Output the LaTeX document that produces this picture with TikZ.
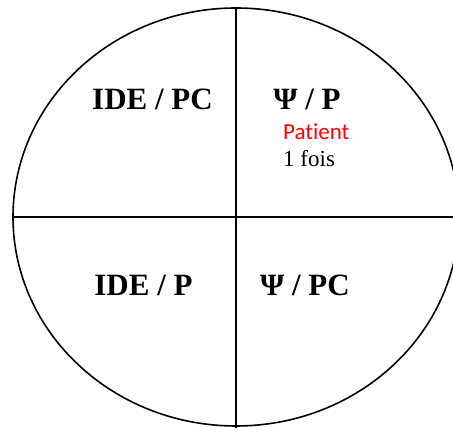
\documentclass[tikz,border=0pt]{standalone}
\usepackage{fontspec}
\usepackage{xcolor}
\usepackage{tikz}
\usetikzlibrary{shapes.geometric}
\setmainfont{Liberation Serif}
\newfontfamily\notefont[Ligatures={NoCommon,NoContextual}]{Carlito}
\definecolor{discline}{RGB}{0,0,0}
\definecolor{notered}{RGB}{255,0,0}
\newcommand{\quadfont}{\fontsize{31}{34}\selectfont\bfseries}
\tikzset{
  disc/.style={ellipse, draw=discline, line width=1.6pt,
    minimum width=446pt, minimum height=418pt, inner sep=0pt},
  divider/.style={draw=discline, line width=1.6pt},
  quadlabel/.style={anchor=base, inner sep=0pt, font=\quadfont},
  notelabel/.style={anchor=base west, inner sep=0pt, text=notered,
    font=\notefont\fontsize{23}{26}\selectfont},
  countlabel/.style={anchor=base west, inner sep=0pt,
    font=\fontsize{23}{26}\selectfont}
}

\begin{document}
\begin{tikzpicture}[x=1pt, y=1pt]
  \useasboundingbox (-236,-211) rectangle (217,217);
  \clip (-236,-211) rectangle (217,217);
  % circle split in four
  \node[disc] (cercle) at (0,0) {};
  \coordinate (bas) at (0,-211);
  \draw[divider] (cercle.north) -- (bas);
  \draw[divider] (cercle.west) -- (cercle.east);
  % quadrants
  \node[quadlabel] (idepc) at (-83.5,107) {IDE / PC};
  \node[quadlabel] (psip) at (71,107) {Ψ / P};
  \node[notelabel] (patient) at (47,77) {Patient};
  \node[countlabel] (fois) at (47,50) {1 fois};
  \node[quadlabel] (idep) at (-92.5,-79) {IDE / P};
  \node[quadlabel] (psipc) at (69,-79) {Ψ / PC};
\end{tikzpicture}
\end{document}
